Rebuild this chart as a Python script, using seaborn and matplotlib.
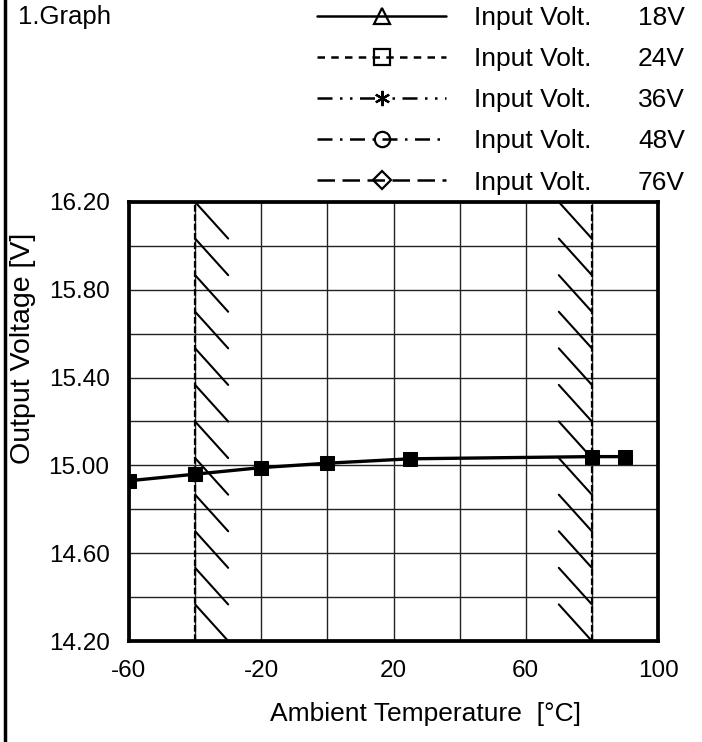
import matplotlib
matplotlib.use("Agg")
import seaborn as sns
import numpy as np
import pandas as pd
import matplotlib.pyplot as plt
from matplotlib.lines import Line2D
from matplotlib.ticker import MultipleLocator, FixedLocator, FormatStrFormatter

# data
temps = [-60, -40, -20, 0, 25, 80, 90]
vout = [14.93, 14.96, 14.99, 15.01, 15.03, 15.04, 15.04]
volt_labels = ["18V", "24V", "36V", "48V", "76V"]
x_ticks = [-60, -20, 20, 60, 100]
y_ticks = [14.2, 14.6, 15.0, 15.4, 15.8, 16.2]
limits = [-40, 80]   # operating temperature limits (hatched boundaries)

sns.set_style("white")
plt.rcParams["font.family"] = ["Liberation Sans", "DejaVu Sans"]
plt.rcParams["axes.unicode_minus"] = False
plt.rcParams["text.color"] = "black"
plt.rcParams["axes.labelcolor"] = "black"
plt.rcParams["xtick.color"] = "black"
plt.rcParams["ytick.color"] = "black"

df = pd.DataFrame({"temp": temps, "vout": vout})

fig = plt.figure(figsize=(7.02, 7.42), dpi=100)
ax = fig.add_axes([129 / 702, 1 - 641 / 742, (658 - 129) / 702, (641 - 202) / 742])

sns.lineplot(data=df, x="temp", y="vout", ax=ax, color="black", lw=2.4,
             marker="s", markersize=10, markerfacecolor="black",
             markeredgecolor="black", legend=False, zorder=5)

ax.set_xlim(-60, 100)
ax.set_ylim(14.2, 16.2)
ax.xaxis.set_major_locator(FixedLocator(x_ticks))
ax.xaxis.set_minor_locator(MultipleLocator(20))
ax.yaxis.set_major_locator(FixedLocator(y_ticks))
ax.yaxis.set_minor_locator(MultipleLocator(0.2))
ax.yaxis.set_major_formatter(FormatStrFormatter("%.2f"))
ax.grid(which="both", color="#222222", lw=1.0)
ax.tick_params(which="both", length=0, labelsize=17.5)
ax.tick_params(axis="x", pad=14)
ax.tick_params(axis="y", pad=14)
for s in ax.spines.values():
    s.set_color("black")
    s.set_linewidth(2.7)

ax.set_xlabel("Ambient Temperature  [°C]", fontsize=19)
ax.set_ylabel("Output Voltage [V]", fontsize=20.5)
ax.xaxis.set_label_coords(0.561, -0.139)
ax.yaxis.set_label_coords(-0.176, 0.667)

# limit lines with hatching toward the operating range
ylo, yhi = ax.get_ylim()
starts = np.linspace(yhi, ylo, 13)[:-1]
step = (yhi - ylo) / 12
for lim, side in zip(limits, [1, -1]):
    ax.axvline(lim, color="black", lw=1.6, ls=(0, (3, 1.2)), zorder=4)
    for y0 in starts:
        if side == 1:
            ax.plot([lim, lim + 10], [y0, y0 - step], color="black", lw=1.5, zorder=4)
        else:
            ax.plot([lim - 10, lim], [y0, y0 - step], color="black", lw=1.5, zorder=4)

# legend
styles = [("-", "^"), ((0, (3, 2.5)), "s"), ((0, (6, 3, 1, 3, 1, 3)), (6, 2, 0)),
          ((0, (6, 3, 1, 3)), "o"), ((0, (7, 3)), "D")]
handles = []
for ls, mk in styles:
    ms = 11 if mk != "D" else 9
    handles.append(Line2D([], [], color="black", lw=1.8, ls=ls, marker=mk,
                          markersize=ms, markerfacecolor="none",
                          markeredgecolor="black", markeredgewidth=1.6))
leg = fig.legend(handles, ["Input Volt."] * 5, loc="upper left",
                 bbox_to_anchor=(317 / 702, 1 - 6 / 742), frameon=False,
                 fontsize=19, handlelength=4.9, handletextpad=1.05,
                 labelspacing=0.65, borderpad=0, borderaxespad=0)

fig.text(18 / 702, 1 - 17 / 742, "1.Graph", fontsize=18.5, va="center", ha="left")
fig.add_artist(Line2D([5 / 702, 5 / 702], [0, 1], transform=fig.transFigure,
                      color="black", lw=2.5))

fig.canvas.draw()
for t, v in zip(leg.get_texts(), volt_labels):
    bb = t.get_window_extent()
    yc = (bb.y0 + bb.y1) / 2 / fig.bbox.height
    fig.text(685 / 702, yc, v, fontsize=19, ha="right", va="center")

fig.savefig("out.png", dpi=100)
